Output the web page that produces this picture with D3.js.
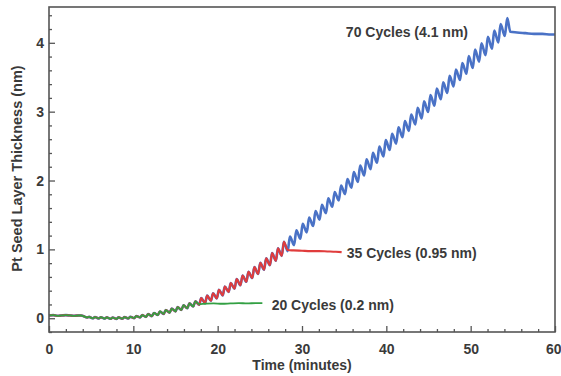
<!DOCTYPE html>
<html><head><meta charset="utf-8">
<script src="https://cdn.jsdelivr.net/npm/d3@7/dist/d3.min.js"></script>
<style>body{margin:0;background:#fff}text{font-family:"Liberation Sans",Arial,sans-serif}</style>
</head><body><svg id="c" width="561" height="376"></svg>
<script>
// ---- data ----
const xTicks = [0, 10, 20, 30, 40, 50, 60];
const yTicks = [0, 1, 2, 3, 4];
const xLabel = "Time (minutes)";
const yLabel = "Pt Seed Layer Thickness (nm)";

// pre-deposition baseline (min, nm)
const baseTime  = [0, 0.5, 1, 1.5, 2, 2.5, 3, 3.5];
const baseValue = [0.04, 0.045, 0.035, 0.04, 0.045, 0.04, 0.035, 0.04];

// ALD cycles: trough before each cycle, then the peak of that cycle
const troughTime = [3.8,4.5,5.2,5.9,6.6,7.3,8.0,8.7,9.4,10.1,10.8,11.5,12.2,12.9,13.6,14.3,15.0,15.7,16.4,17.1,17.8,18.5,19.2,19.9,20.6,21.3,22.0,22.7,23.4,24.1,24.8,25.5,26.2,26.9,27.6,28.3,29.06,29.81,30.57,31.33,32.09,32.84,33.60,34.36,35.11,35.87,36.63,37.38,38.14,38.90,39.66,40.41,41.17,41.93,42.68,43.44,44.20,44.96,45.71,46.47,47.23,47.98,48.74,49.50,50.25,51.01,51.77,52.53,53.28,54.04];
const troughValue = [0.04,0.012,-0.001,-0.003,-0.005,-0.008,-0.01,-0.007,-0.003,0.001,0.012,0.02,0.03,0.047,0.063,0.082,0.10,0.121,0.144,0.171,0.195,0.218,0.253,0.288,0.332,0.381,0.43,0.478,0.53,0.584,0.642,0.705,0.77,0.835,0.905,0.975,1.061,1.154,1.246,1.339,1.432,1.525,1.618,1.71,1.803,1.896,1.979,2.072,2.164,2.257,2.35,2.443,2.536,2.628,2.721,2.814,2.902,2.995,3.087,3.18,3.273,3.366,3.459,3.551,3.634,3.727,3.82,3.913,4.005,4.098];
const peakTime = [4.05,4.75,5.45,6.15,6.85,7.55,8.25,8.95,9.65,10.35,11.05,11.75,12.45,13.15,13.85,14.55,15.25,15.95,16.65,17.35,18.05,18.75,19.45,20.15,20.85,21.55,22.25,22.95,23.65,24.35,25.05,25.75,26.45,27.15,27.85,28.57,29.33,30.08,30.84,31.60,32.36,33.11,33.87,34.63,35.38,36.14,36.90,37.65,38.41,39.17,39.93,40.68,41.44,42.20,42.95,43.71,44.47,45.23,45.98,46.74,47.50,48.25,49.01,49.77,50.52,51.28,52.04,52.80,53.55,54.34];
const peakValue = [0.032,0.019,0.017,0.015,0.012,0.010,0.013,0.017,0.021,0.032,0.045,0.06,0.077,0.098,0.117,0.14,0.161,0.189,0.216,0.245,0.293,0.328,0.363,0.412,0.461,0.51,0.568,0.62,0.674,0.742,0.805,0.87,0.945,1.015,1.11,1.185,1.278,1.37,1.463,1.556,1.649,1.742,1.834,1.927,2.02,2.123,2.216,2.308,2.401,2.494,2.587,2.68,2.772,2.865,2.958,3.056,3.149,3.241,3.334,3.427,3.52,3.613,3.705,3.808,3.901,3.994,4.087,4.179,4.272,4.36];

// plateaus after the last cycle of each run
const blueTailTime  = [54.7, 55.5, 56.5, 57.5, 58.5, 59.5, 60];
const blueTailValue = [4.16, 4.15, 4.14, 4.13, 4.13, 4.12, 4.12];
const redTailTime   = [28.3, 29, 30, 31, 32, 33, 34, 34.7];
const redTailValue  = [0.99, 0.985, 0.98, 0.975, 0.975, 0.97, 0.965, 0.96];
const greenTailTime  = [17.8, 18.5, 19.5, 20.5, 21.5, 22.5, 23.5, 24.5, 25.3];
const greenTailValue = [0.205, 0.21, 0.215, 0.21, 0.215, 0.22, 0.215, 0.22, 0.22];

const seriesNames  = ["70 Cycles (4.1 nm)", "35 Cycles (0.95 nm)", "20 Cycles (0.2 nm)"];
const seriesCycles = [70, 35, 20];

// ---- chart ----
const W = 561, H = 376;
const m = {l: 49, r: 6, t: 7, b: 44};
const svg = d3.select("#c");
const x = d3.scaleLinear().domain([0, 60]).range([m.l, W - m.r]);
const y = d3.scaleLinear().domain([-0.2, 4.52]).range([H - m.b, m.t]);

function build(n, tT, tV) {
  const pts = baseTime.map((t, i) => [t, baseValue[i]]);
  for (let i = 0; i < n; i++) {
    pts.push([troughTime[i], troughValue[i]]);
    pts.push([peakTime[i], peakValue[i]]);
  }
  tT.forEach((t, i) => pts.push([t, tV[i]]));
  return pts;
}
const series = [
  {name: seriesNames[0], pts: build(seriesCycles[0], blueTailTime, blueTailValue), color: "#4a72c6", w: 2.6, lx: 35.2, ly: 4.15},
  {name: seriesNames[1], pts: build(seriesCycles[1], redTailTime, redTailValue), color: "#e03c3c", w: 2.1, lx: 35.3, ly: 0.95},
  {name: seriesNames[2], pts: build(seriesCycles[2], greenTailTime, greenTailValue), color: "#33a043", w: 1.8, lx: 26.4, ly: 0.19}
];

const line = d3.line().x(d => x(d[0])).y(d => y(d[1])).curve(d3.curveMonotoneX);
series.forEach(s => {
  svg.append("path").attr("d", line(s.pts)).attr("fill", "none")
    .attr("stroke", s.color).attr("stroke-width", s.w).attr("stroke-linejoin", "round");
});

// frame
svg.append("rect").attr("x", m.l).attr("y", m.t).attr("width", W - m.l - m.r).attr("height", H - m.t - m.b)
  .attr("fill", "none").attr("stroke", "#555").attr("stroke-width", 1.6);

// axes (ticks inward)
const xAxis = d3.axisBottom(x).tickValues(xTicks).tickSize(-6).tickPadding(12).tickFormat(d3.format("d"));
const gx = svg.append("g").attr("transform", `translate(0,${H - m.b})`).call(xAxis);
gx.selectAll(".tick text").filter(d => d === 60).attr("text-anchor", "end").attr("x", 6);
const xMinor = d3.axisBottom(x).tickValues(d3.range(0, 61, 2).filter(v => v % 10)).tickSize(-3).tickFormat("");
svg.append("g").attr("transform", `translate(0,${H - m.b})`).call(xMinor);
const yAxis = d3.axisLeft(y).tickValues(yTicks).tickSize(-6).tickPadding(5).tickFormat(d3.format("d"));
svg.append("g").attr("transform", `translate(${m.l},0)`).call(yAxis);
const yMinor = d3.axisLeft(y).tickValues(d3.range(-0.2, 4.51, 0.2).filter(v => Math.abs(v - Math.round(v)) > 0.01)).tickSize(-3).tickFormat("");
svg.append("g").attr("transform", `translate(${m.l},0)`).call(yMinor);
svg.selectAll(".domain").remove();
svg.selectAll(".tick line").attr("stroke", "#555").attr("stroke-width", 1.3);
svg.selectAll(".tick text").attr("font-family", "Liberation Sans, Arial, sans-serif")
  .attr("font-size", 14).attr("font-weight", "bold").attr("fill", "#3a3a3a");

// axis titles
svg.append("text").attr("x", (m.l + W - m.r) / 2).attr("y", 370).attr("text-anchor", "middle")
  .attr("font-size", 14).attr("font-weight", "bold").attr("fill", "#3a3a3a").text(xLabel);
svg.append("text").attr("transform", `translate(22,${(m.t + H - m.b) / 2 - 1}) rotate(-90)`).attr("text-anchor", "middle")
  .attr("font-size", 14.5).attr("font-weight", "bold").attr("fill", "#3a3a3a").text(yLabel);

// series annotations
series.forEach(s => {
  svg.append("text").attr("x", x(s.lx)).attr("y", y(s.ly)).attr("dy", "0.35em")
    .attr("font-size", 14).attr("font-weight", "bold").attr("fill", "#3a3a3a").text(s.name);
});
</script></body></html>
